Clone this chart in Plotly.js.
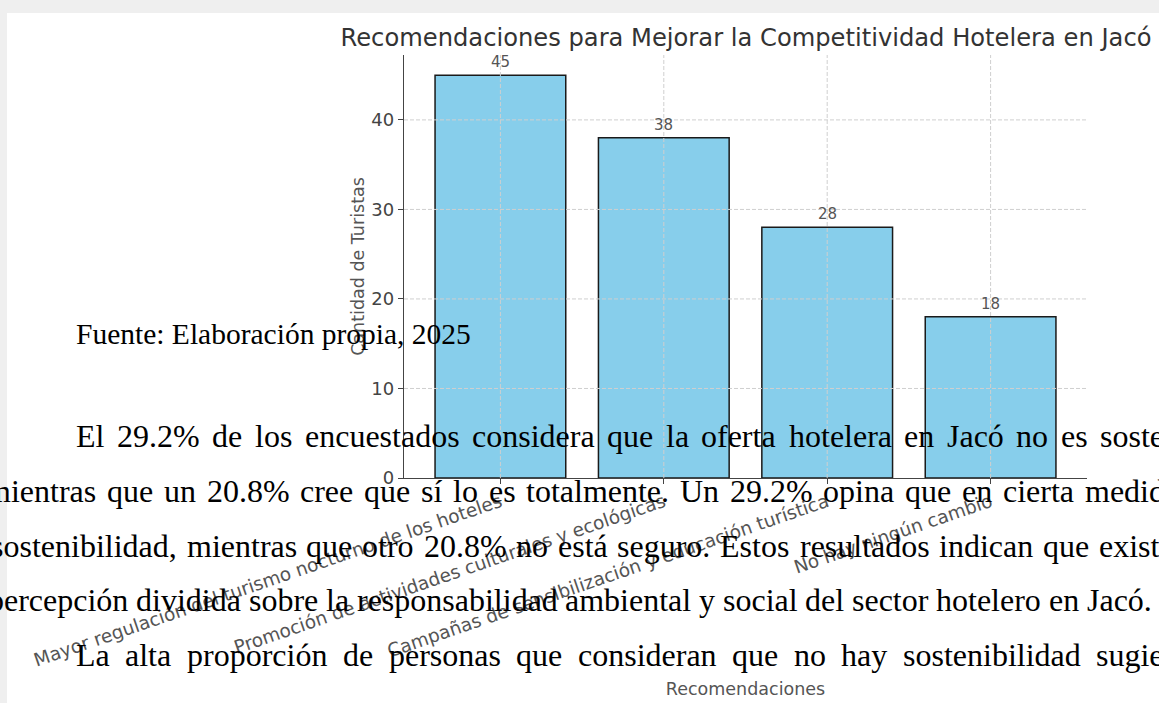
<!DOCTYPE html>
<html>
<head>
<meta charset="utf-8">
<script src="https://cdn.plot.ly/plotly-3.0.1.min.js"></script>
<style>
html,body{margin:0;padding:0;background:#fff;overflow:hidden;}
#chart{width:1159px;height:703px;}
</style>
</head>
<body>
<div id="chart"></div>
<script>
// ---- chart data ----
const categories = [
  "Mayor regulación del turismo nocturno de los hoteles",
  "Promoción de actividades culturales y ecológicas",
  "Campañas de sensibilización y educación turística",
  "No hay ningún cambio"
];
const values = [45, 38, 28, 18];
const yTickValues = [0, 10, 20, 30, 40];
const chartTitle = "Recomendaciones para Mejorar la Competitividad Hotelera en Jacó";
const xTitle = "Recomendaciones";
const yTitle = "Cantidad de Turistas";

// ---- surrounding document text ----
const sourceNote = "Fuente: Elaboración propia, 2025";
const docLine1 = "El 29.2% de los encuestados considera que la oferta hotelera en Jacó no es sostenible,";
const docLine2 = "mientras que un 20.8% cree que sí lo es totalmente. Un 29.2% opina que en cierta medida";
const docLine3 = "sostenibilidad, mientras que otro 20.8% no está seguro. Estos resultados indican que existe";
const docLine4 = "percepción dividida sobre la responsabilidad ambiental y social del sector hotelero en Jacó.";
const docLine5 = "La alta proporción de personas que consideran que no hay sostenibilidad sugiere";

// ---- geometry (pixels) ----
const L = 404, T = 55, W = 683, H = 423;
const px2x = p => (p - L) / W;
const py2y = p => (T + H - p) / H;

const serif = "Liberation Serif";
const docSize = 32;
const canvas = document.createElement("canvas");
const ctx = canvas.getContext("2d");
ctx.font = docSize + "px '" + serif + "'";
const mw = s => ctx.measureText(s).width;

function layoutLine(text, startPx, lastStartPx, yPx) {
  const words = text.split(" ");
  const widths = words.map(mw);
  let sum = 0;
  for (let i = 0; i < words.length - 1; i++) sum += widths[i];
  const gap = (lastStartPx - startPx - sum) / (words.length - 1);
  const anns = [];
  let x = startPx;
  words.forEach((w, i) => {
    anns.push({
      text: w, xref: "paper", yref: "paper", x: px2x(x), y: py2y(yPx),
      xanchor: "left", yanchor: "middle", showarrow: false, borderpad: 0,
      font: {family: serif, size: docSize, color: "#000"}
    });
    x += widths[i] + gap;
  });
  return anns;
}

const docAnns = [].concat(
  layoutLine(docLine1, 75, 1099, 436),
  layoutLine(docLine2, -15, 1084, 491),
  layoutLine(docLine3, -10, 1098, 546),
  layoutLine(docLine4, -13, 1086, 600),
  layoutLine(docLine5, 75, 1095, 655),
  [{
    text: sourceNote, xref: "paper", yref: "paper", x: px2x(75), y: py2y(334),
    xanchor: "left", yanchor: "middle", showarrow: false, borderpad: 0,
    font: {family: serif, size: 29.5, color: "#000"}
  }]
);

const sans = "DejaVu Sans";
const gridColor = "#cfcfcf";

const gridShapes = [];
categories.forEach(c => gridShapes.push({
  type: "line", xref: "x", yref: "paper", x0: c, x1: c, y0: 0, y1: 1,
  line: {color: gridColor, width: 1, dash: "4px,2px"}, layer: "above"
}));
yTickValues.filter(v => v > 0).forEach(v => gridShapes.push({
  type: "line", xref: "paper", yref: "y", x0: 0, x1: 1, y0: v, y1: v,
  line: {color: gridColor, width: 1, dash: "4px,2px"}, layer: "above"
}));

const frameShapes = [
  {type: "rect", xref: "paper", yref: "paper", x0: px2x(-10), x1: px2x(1170), y0: py2y(-10), y1: py2y(720),
   fillcolor: "#efefef", line: {width: 0}, layer: "below"},
  {type: "rect", xref: "paper", yref: "paper", x0: px2x(7), x1: px2x(1170), y0: py2y(13), y1: py2y(720),
   fillcolor: "#ffffff", line: {width: 0}, layer: "below"}
];

const valueLabels = categories.map((c, i) => ({
  x: c, y: values[i], xref: "x", yref: "y", text: String(values[i]),
  showarrow: false, yanchor: "bottom", yshift: 2,
  font: {family: sans, size: 15, color: "#555"}
}));

const trace = {
  type: "bar",
  x: categories,
  y: values,
  width: 0.8,
  marker: {color: "#87CEEB", line: {color: "#1a1a1a", width: 1.5}},
  hoverinfo: "skip"
};

const layout = {
  width: 1159, height: 703,
  margin: {l: L, r: 1159 - L - W, t: T, b: 703 - T - H},
  paper_bgcolor: "#ffffff",
  plot_bgcolor: "rgba(0,0,0,0)",
  showlegend: false,
  title: {
    text: chartTitle, x: px2x(746), xref: "paper", xanchor: "center",
    y: 1 - 38 / 703, yref: "container", yanchor: "middle",
    font: {family: sans, size: 24.2, color: "#333"}
  },
  xaxis: {
    type: "category", range: [-0.59, 3.59], showgrid: false, zeroline: false,
    showline: true, linecolor: "#444", linewidth: 1.3,
    ticks: "outside", ticklen: 5, tickcolor: "#444",
    tickangle: -19, automargin: false,
    tickfont: {family: sans, size: 18.5, color: "#555"},
    title: {text: xTitle, font: {family: sans, size: 17.5, color: "#555"}, standoff: 13}
  },
  yaxis: {
    range: [0, 47.25], tickvals: yTickValues, showgrid: false, zeroline: false,
    showline: true, linecolor: "#444", linewidth: 1.3,
    ticks: "outside", ticklen: 5, tickcolor: "#444", automargin: false,
    tickfont: {family: sans, size: 18, color: "#444"},
    title: {text: yTitle, font: {family: sans, size: 17.5, color: "#555"}, standoff: 2}
  },
  shapes: frameShapes.concat(gridShapes),
  annotations: valueLabels.concat(docAnns)
};

Plotly.newPlot("chart", [trace], layout, {displayModeBar: false, staticPlot: true});
</script>
</body>
</html>
